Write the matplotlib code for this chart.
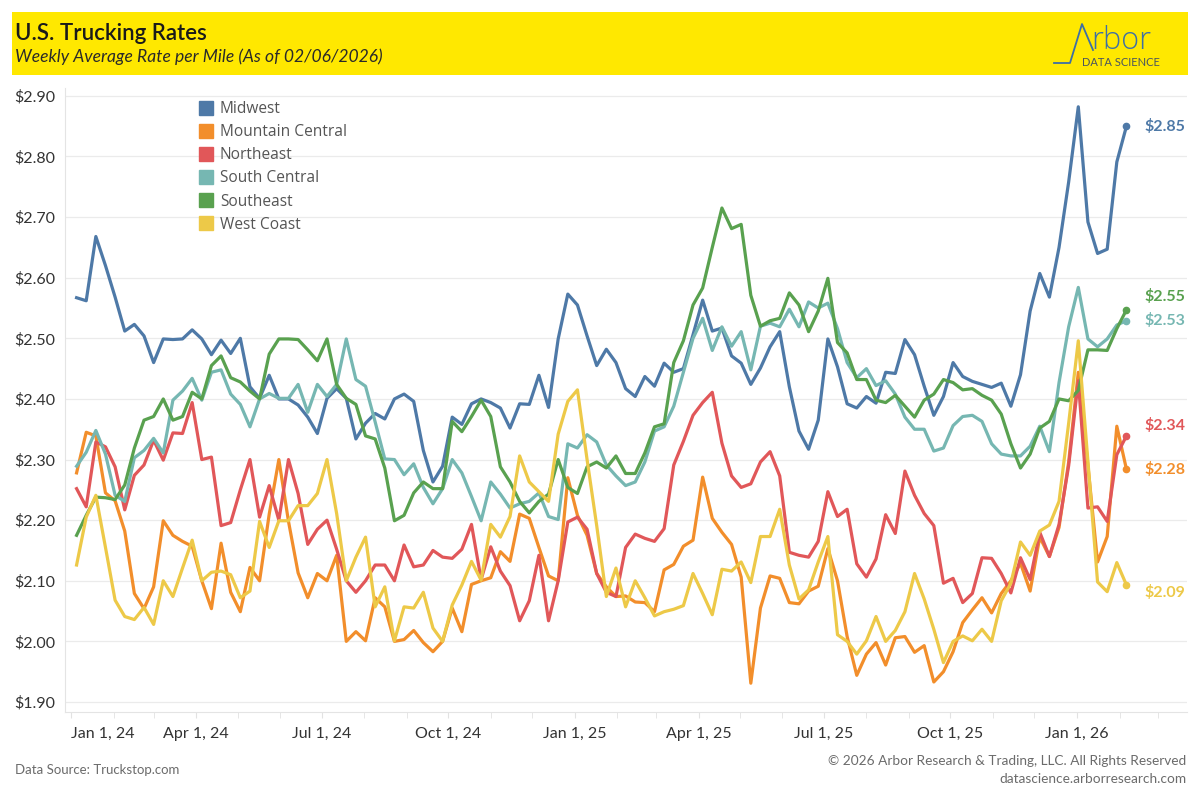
import numpy as np
import pandas as pd
import matplotlib
matplotlib.use("Agg")
import matplotlib.pyplot as plt
import matplotlib.dates as mdates
from matplotlib.patches import Rectangle
from matplotlib.lines import Line2D
from matplotlib.ticker import FuncFormatter

plt.rcParams['font.family'] = ['Lato', 'DejaVu Sans']

# weekly series, first week ending 2024-01-05, last 2026-02-06
start_date = "2024-01-05"

midwest = [2.567, 2.562, 2.668, 2.620, 2.568, 2.512, 2.523, 2.504, 2.460, 2.499,
           2.498, 2.499, 2.514, 2.499, 2.473, 2.497, 2.475, 2.500, 2.420, 2.401,
           2.439, 2.400, 2.400, 2.390, 2.370, 2.343, 2.401, 2.417, 2.401, 2.334,
           2.360, 2.376, 2.367, 2.400, 2.408, 2.396, 2.315, 2.263, 2.289, 2.370,
           2.358, 2.392, 2.400, 2.394, 2.385, 2.352, 2.392, 2.391, 2.439, 2.386,
           2.499, 2.573, 2.555, 2.504, 2.455, 2.482, 2.460, 2.417, 2.404, 2.437,
           2.421, 2.459, 2.444, 2.450, 2.506, 2.563, 2.512, 2.517, 2.471, 2.459,
           2.424, 2.451, 2.486, 2.511, 2.420, 2.347, 2.317, 2.365, 2.499, 2.453,
           2.392, 2.385, 2.404, 2.393, 2.444, 2.442, 2.498, 2.473, 2.421, 2.373,
           2.404, 2.460, 2.437, 2.429, 2.424, 2.419, 2.426, 2.388, 2.440, 2.545,
           2.607, 2.568, 2.650, 2.758, 2.882, 2.692, 2.640, 2.647, 2.791, 2.850]

mountain_central = [2.278, 2.345, 2.339, 2.245, 2.232, 2.182, 2.079, 2.054, 2.090, 2.199,
                    2.175, 2.165, 2.157, 2.100, 2.054, 2.162, 2.081, 2.049, 2.122, 2.100,
                    2.210, 2.300, 2.198, 2.113, 2.072, 2.112, 2.100, 2.142, 2.000, 2.016,
                    2.001, 2.072, 2.057, 2.000, 2.003, 2.018, 1.998, 1.983, 2.000, 2.055,
                    2.016, 2.094, 2.100, 2.105, 2.148, 2.132, 2.210, 2.203, 2.155, 2.108,
                    2.100, 2.270, 2.208, 2.175, 2.112, 2.090, 2.074, 2.075, 2.065, 2.064,
                    2.049, 2.118, 2.127, 2.157, 2.167, 2.271, 2.203, 2.180, 2.160, 2.106,
                    1.931, 2.055, 2.108, 2.104, 2.064, 2.062, 2.083, 2.091, 2.153, 2.100,
                    2.008, 1.944, 1.979, 1.998, 1.961, 2.006, 2.008, 1.982, 1.993, 1.933,
                    1.950, 1.983, 2.031, 2.052, 2.072, 2.047, 2.079, 2.100, 2.129, 2.083,
                    2.172, 2.140, 2.188, 2.296, 2.444, 2.290, 2.131, 2.173, 2.355, 2.284]

northeast = [2.252, 2.222, 2.329, 2.321, 2.288, 2.217, 2.274, 2.291, 2.332, 2.299,
             2.344, 2.343, 2.394, 2.300, 2.304, 2.191, 2.196, 2.250, 2.300, 2.205,
             2.257, 2.200, 2.300, 2.244, 2.160, 2.185, 2.200, 2.152, 2.100, 2.081,
             2.100, 2.126, 2.126, 2.100, 2.159, 2.123, 2.126, 2.150, 2.139, 2.137,
             2.152, 2.193, 2.102, 2.156, 2.116, 2.092, 2.034, 2.067, 2.142, 2.034,
             2.100, 2.197, 2.205, 2.185, 2.112, 2.081, 2.074, 2.155, 2.177, 2.170,
             2.165, 2.186, 2.291, 2.330, 2.373, 2.394, 2.411, 2.327, 2.273, 2.254,
             2.260, 2.296, 2.313, 2.273, 2.147, 2.142, 2.139, 2.165, 2.247, 2.206,
             2.218, 2.128, 2.106, 2.136, 2.209, 2.178, 2.281, 2.241, 2.211, 2.191,
             2.096, 2.104, 2.064, 2.079, 2.138, 2.137, 2.112, 2.080, 2.138, 2.102,
             2.180, 2.140, 2.193, 2.290, 2.430, 2.220, 2.222, 2.198, 2.308, 2.339]

south_central = [2.289, 2.312, 2.348, 2.309, 2.241, 2.231, 2.303, 2.315, 2.335, 2.311,
                 2.398, 2.413, 2.434, 2.398, 2.444, 2.448, 2.408, 2.391, 2.354, 2.400,
                 2.409, 2.401, 2.401, 2.424, 2.378, 2.424, 2.404, 2.424, 2.499, 2.432,
                 2.421, 2.362, 2.301, 2.300, 2.275, 2.293, 2.254, 2.227, 2.252, 2.300,
                 2.278, 2.239, 2.199, 2.263, 2.243, 2.220, 2.227, 2.231, 2.245, 2.206,
                 2.201, 2.326, 2.319, 2.341, 2.329, 2.291, 2.273, 2.257, 2.263, 2.296,
                 2.347, 2.354, 2.388, 2.444, 2.500, 2.533, 2.480, 2.519, 2.487, 2.511,
                 2.448, 2.520, 2.525, 2.519, 2.548, 2.519, 2.560, 2.550, 2.558, 2.516,
                 2.460, 2.435, 2.450, 2.422, 2.430, 2.408, 2.370, 2.350, 2.350, 2.314,
                 2.319, 2.356, 2.371, 2.373, 2.363, 2.326, 2.309, 2.306, 2.306, 2.322,
                 2.355, 2.313, 2.427, 2.519, 2.584, 2.499, 2.486, 2.499, 2.522, 2.529]

southeast = [2.175, 2.208, 2.238, 2.237, 2.234, 2.258, 2.319, 2.365, 2.371, 2.400,
             2.365, 2.371, 2.411, 2.400, 2.455, 2.471, 2.435, 2.428, 2.413, 2.400,
             2.474, 2.499, 2.499, 2.498, 2.481, 2.463, 2.499, 2.424, 2.401, 2.391,
             2.339, 2.334, 2.286, 2.199, 2.208, 2.245, 2.263, 2.252, 2.252, 2.363,
             2.346, 2.371, 2.398, 2.371, 2.288, 2.263, 2.231, 2.212, 2.231, 2.243,
             2.300, 2.254, 2.244, 2.288, 2.296, 2.286, 2.306, 2.277, 2.277, 2.311,
             2.354, 2.359, 2.460, 2.496, 2.555, 2.583, 2.650, 2.715, 2.681, 2.688,
             2.571, 2.520, 2.529, 2.533, 2.575, 2.555, 2.511, 2.545, 2.599, 2.493,
             2.476, 2.432, 2.432, 2.398, 2.394, 2.406, 2.388, 2.370, 2.398, 2.408,
             2.432, 2.427, 2.415, 2.417, 2.406, 2.398, 2.375, 2.326, 2.286, 2.309,
             2.352, 2.363, 2.400, 2.397, 2.414, 2.481, 2.481, 2.480, 2.516, 2.547]

west_coast = [2.126, 2.205, 2.241, 2.155, 2.068, 2.041, 2.036, 2.056, 2.028, 2.100,
              2.074, 2.121, 2.167, 2.100, 2.114, 2.116, 2.110, 2.072, 2.083, 2.198,
              2.155, 2.199, 2.199, 2.224, 2.224, 2.244, 2.300, 2.211, 2.100, 2.139,
              2.172, 2.057, 2.090, 2.001, 2.057, 2.055, 2.081, 2.022, 2.000, 2.060,
              2.093, 2.132, 2.101, 2.193, 2.172, 2.206, 2.306, 2.263, 2.247, 2.231,
              2.342, 2.396, 2.415, 2.300, 2.191, 2.074, 2.121, 2.057, 2.100, 2.072,
              2.042, 2.049, 2.053, 2.059, 2.112, 2.079, 2.044, 2.119, 2.116, 2.131,
              2.097, 2.173, 2.173, 2.218, 2.126, 2.070, 2.085, 2.131, 2.173, 2.011,
              2.000, 1.979, 2.001, 2.041, 2.000, 2.018, 2.049, 2.112, 2.070, 2.020,
              1.965, 2.000, 2.009, 2.001, 2.020, 2.000, 2.067, 2.096, 2.164, 2.142,
              2.182, 2.192, 2.231, 2.360, 2.496, 2.297, 2.098, 2.082, 2.130, 2.093]

regions = ["Midwest", "Mountain Central", "Northeast", "South Central", "Southeast", "West Coast"]
series = [midwest, mountain_central, northeast, south_central, southeast, west_coast]
colors = ["#4e79a7", "#f28e2b", "#e15759", "#76b7b2", "#59a14f", "#edc948"]
# small vertical nudges for the end labels so they don't collide
label_nudge = [0.0, 0.0, 0.018, 0.0, 0.022, -0.013]

tick_dates = ["2024-01-01", "2024-04-01", "2024-07-01", "2024-10-01", "2025-01-01",
              "2025-04-01", "2025-07-01", "2025-10-01", "2026-01-01"]

W, H = 1200, 800
def fx(x):
    return x / W
def fy(y):
    return 1 - y / H

fig = plt.figure(figsize=(12, 8), dpi=100)

# yellow header band
fig.patches.append(Rectangle((fx(12), fy(75)), fx(1176), 63 / H, transform=fig.transFigure,
                             facecolor="#ffe800", edgecolor="none", zorder=0))
fig.text(fx(15), fy(33), "U.S. Trucking Rates", fontsize=16, fontweight="semibold",
         color="#1a1a1a", va="center", ha="left")
fig.text(fx(15), fy(57), "Weekly Average Rate per Mile (As of 02/06/2026)", fontsize=12.6,
         style="italic", color="#2a2a2a", va="center", ha="left")

# logo
logo_c = "#3d6fa6"
fig.add_artist(Line2D([fx(1054), fx(1070), fx(1082), fx(1093)], [fy(63), fy(63), fy(24), fy(50)],
                      transform=fig.transFigure, color=logo_c, lw=1.3))
fig.text(fx(1091), fy(49), "rbor", fontsize=22, fontweight="light", color=logo_c,
         va="baseline", ha="left", family=["Open Sans", "DejaVu Sans"])
fig.text(fx(1160), fy(62), "DATA SCIENCE", fontsize=8, color="#4a5560", va="center", ha="right")

ax = fig.add_axes([fx(65), fy(712), (1187 - 65) / W, (712 - 88) / H])
dates = pd.date_range(start_date, periods=len(midwest), freq="7D")

for name, vals, c, nud in zip(regions, series, colors, label_nudge):
    ax.plot(dates, vals, color=c, lw=2.3, solid_joinstyle="round", zorder=3)
    ax.plot(dates[-1], vals[-1], "o", color=c, ms=4.5, zorder=4)
    ax.text(dates[-1] + pd.Timedelta(days=13), vals[-1] + nud, f"${vals[-1]:.2f}",
            color=c, fontsize=11.5, fontweight="bold", va="center", ha="left")

ax.set_ylim(1.8835, 2.913)
ax.set_xlim(pd.Timestamp("2023-12-27 14:00"), pd.Timestamp("2026-03-22"))
ax.set_yticks(np.arange(1.9, 2.91, 0.1))
ax.yaxis.set_major_formatter(FuncFormatter(lambda v, p: f"${v:.2f}"))
ticks = pd.to_datetime(tick_dates)
ax.set_xticks(ticks)
ax.set_xticklabels([f"{d:%b} {d.day}, {d:%y}" for d in ticks])
ax.xaxis.set_minor_locator(mdates.MonthLocator())
ax.xaxis.get_ticklabels()[0].set_horizontalalignment("left")

ax.grid(axis="y", color="#ebebeb", lw=0.9)
ax.set_axisbelow(True)
for s in ["top", "right"]:
    ax.spines[s].set_visible(False)
for s in ["left", "bottom"]:
    ax.spines[s].set_color("#e4e4e4")
ax.tick_params(axis="y", length=0, pad=7, labelsize=11.5, labelcolor="#333333")
ax.tick_params(axis="x", which="both", length=4, color="#e2e2e2")
ax.tick_params(axis="x", pad=7, labelsize=11.5, labelcolor="#333333")

handles = [Line2D([], [], marker="s", ls="none", ms=9.5, mfc=c, mec=c) for c in colors]
leg = fig.legend(handles, regions, loc="upper left", bbox_to_anchor=(fx(198), fy(101)),
                 frameon=False, labelspacing=0.46, handletextpad=0.4,
                 handlelength=1.0, borderaxespad=0, borderpad=0,
                 prop={"family": ["Open Sans", "DejaVu Sans"], "size": 11.2})
for t in leg.get_texts():
    t.set_color("#555555")

fig.text(fx(15), fy(770), "Data Source: Truckstop.com", fontsize=9.5, color="#6b6b6b", va="center")
fig.text(fx(1186), fy(761), "\u00a9 2026 Arbor Research & Trading, LLC. All Rights Reserved",
         fontsize=9.8, color="#6b6b6b", va="center", ha="right")
fig.text(fx(1186), fy(779), "datascience.arborresearch.com", fontsize=9.8, color="#6b6b6b",
         va="center", ha="right")

fig.savefig("out.png", dpi=100, facecolor="white")
